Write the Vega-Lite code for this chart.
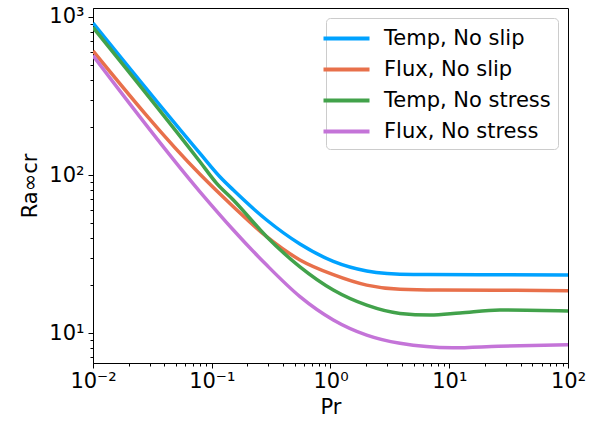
{
  "$schema": "https://vega.github.io/schema/vega-lite/v6.json",
  "width": 475,
  "height": 355,
  "autosize": {"type": "none"},
  "padding": {"left": 93, "top": 8, "right": 22, "bottom": 60},
  "background": "white",
  "config": {
    "font": "DejaVu Sans",
    "view": {"stroke": "black", "strokeWidth": 1}
  },
  "data": {
    "values": [
      {"Pr": 0.01, "Ra": 916, "case": "Temp, No slip"},
      {"Pr": 0.0796, "Ra": 137, "case": "Temp, No slip"},
      {"Pr": 0.117, "Ra": 97.5, "case": "Temp, No slip"},
      {"Pr": 0.152, "Ra": 80.3, "case": "Temp, No slip"},
      {"Pr": 0.29, "Ra": 51.9, "case": "Temp, No slip"},
      {"Pr": 0.553, "Ra": 36.6, "case": "Temp, No slip"},
      {"Pr": 1.056, "Ra": 28.4, "case": "Temp, No slip"},
      {"Pr": 2.018, "Ra": 24.7, "case": "Temp, No slip"},
      {"Pr": 3.0, "Ra": 23.8, "case": "Temp, No slip"},
      {"Pr": 5.0, "Ra": 23.45, "case": "Temp, No slip"},
      {"Pr": 18.0, "Ra": 23.4, "case": "Temp, No slip"},
      {"Pr": 100, "Ra": 23.3, "case": "Temp, No slip"},

      {"Pr": 0.01, "Ra": 610, "case": "Flux, No slip"},
      {"Pr": 0.0796, "Ra": 101, "case": "Flux, No slip"},
      {"Pr": 0.152, "Ra": 63.0, "case": "Flux, No slip"},
      {"Pr": 0.29, "Ra": 40.7, "case": "Flux, No slip"},
      {"Pr": 0.553, "Ra": 29.0, "case": "Flux, No slip"},
      {"Pr": 1.056, "Ra": 23.4, "case": "Flux, No slip"},
      {"Pr": 2.018, "Ra": 20.1, "case": "Flux, No slip"},
      {"Pr": 3.85, "Ra": 18.9, "case": "Flux, No slip"},
      {"Pr": 8.0, "Ra": 18.7, "case": "Flux, No slip"},
      {"Pr": 25.0, "Ra": 18.65, "case": "Flux, No slip"},
      {"Pr": 100, "Ra": 18.5, "case": "Flux, No slip"},

      {"Pr": 0.01, "Ra": 860, "case": "Temp, No stress"},
      {"Pr": 0.0796, "Ra": 121.4, "case": "Temp, No stress"},
      {"Pr": 0.11, "Ra": 88.5, "case": "Temp, No stress"},
      {"Pr": 0.152, "Ra": 69.5, "case": "Temp, No stress"},
      {"Pr": 0.29, "Ra": 40.7, "case": "Temp, No stress"},
      {"Pr": 0.553, "Ra": 26.2, "case": "Temp, No stress"},
      {"Pr": 1.056, "Ra": 18.7, "case": "Temp, No stress"},
      {"Pr": 2.018, "Ra": 15.0, "case": "Temp, No stress"},
      {"Pr": 3.85, "Ra": 13.3, "case": "Temp, No stress"},
      {"Pr": 6.9, "Ra": 13.0, "case": "Temp, No stress"},
      {"Pr": 12.3, "Ra": 13.4, "case": "Temp, No stress"},
      {"Pr": 26.7, "Ra": 14.0, "case": "Temp, No stress"},
      {"Pr": 100, "Ra": 13.8, "case": "Temp, No stress"},

      {"Pr": 0.01, "Ra": 570, "case": "Flux, No stress"},
      {"Pr": 0.0796, "Ra": 78.3, "case": "Flux, No stress"},
      {"Pr": 0.152, "Ra": 44.9, "case": "Flux, No stress"},
      {"Pr": 0.29, "Ra": 26.9, "case": "Flux, No stress"},
      {"Pr": 0.553, "Ra": 17.0, "case": "Flux, No stress"},
      {"Pr": 1.056, "Ra": 12.1, "case": "Flux, No stress"},
      {"Pr": 2.018, "Ra": 9.7, "case": "Flux, No stress"},
      {"Pr": 3.85, "Ra": 8.61, "case": "Flux, No stress"},
      {"Pr": 10.7, "Ra": 8.07, "case": "Flux, No stress"},
      {"Pr": 26, "Ra": 8.25, "case": "Flux, No stress"},
      {"Pr": 100, "Ra": 8.43, "case": "Flux, No stress"}
    ]
  },
  "mark": {"type": "line", "strokeWidth": 3.5, "interpolate": "monotone", "clip": true},
  "encoding": {
    "x": {
      "field": "Pr", "type": "quantitative",
      "scale": {"type": "log", "domain": [0.01, 100], "nice": false},
      "axis": {
        "title": "Pr",
        "titleFontSize": 21, "titleFontWeight": "normal", "titleColor": "black", "titlePadding": 5,
        "values": [0.01,0.02,0.03,0.04,0.05,0.06,0.07,0.08,0.09,0.1,0.2,0.3,0.4,0.5,0.6,0.7,0.8,0.9,1,2,3,4,5,6,7,8,9,10,20,30,40,50,60,70,80,90,100],
        "labelExpr": "datum.value==0.01?'10⁻²':datum.value==0.1?'10⁻¹':datum.value==1?'10⁰':datum.value==10?'10¹':datum.value==100?'10²':''",
        "labelFontSize": 21, "labelColor": "black", "labelOverlap": false, "labelFlush": false, "labelBound": false, "labelPadding": 2,
        "grid": false, "domainColor": "black", "tickColor": "black",
        "tickSize": {"condition": {"test": "datum.value==0.01||datum.value==0.1||datum.value==1||datum.value==10||datum.value==100", "value": 5}, "value": 3}
      }
    },
    "y": {
      "field": "Ra", "type": "quantitative",
      "scale": {"type": "log", "domain": [6.46, 1140], "nice": false},
      "axis": {
        "title": "Ra∞cr",
        "titleFontSize": 21, "titleFontWeight": "normal", "titleColor": "black", "titlePadding": 8,
        "values": [7,8,9,10,20,30,40,50,60,70,80,90,100,200,300,400,500,600,700,800,900,1000],
        "labelExpr": "datum.value==10?'10¹':datum.value==100?'10²':datum.value==1000?'10³':''",
        "labelFontSize": 21, "labelColor": "black", "labelOverlap": false, "labelFlush": false, "labelBound": false, "labelPadding": 4,
        "grid": false, "domainColor": "black", "tickColor": "black",
        "tickSize": {"condition": {"test": "datum.value==10||datum.value==100||datum.value==1000", "value": 5}, "value": 3}
      }
    },
    "color": {
      "field": "case", "type": "nominal",
      "scale": {
        "domain": ["Temp, No slip", "Flux, No slip", "Temp, No stress", "Flux, No stress"],
        "range": ["#00a2ff", "#e8704b", "#42a24b", "#c474d8"]
      },
      "legend": {
        "title": null, "orient": "top-right", "offset": 10,
        "labelFontSize": 21, "labelColor": "black", "labelLimit": 400, "labelOffset": 24,
        "symbolType": "M-2,0H2", "symbolSize": 529, "symbolStrokeWidth": 4,
        "strokeColor": "#cccccc", "fillColor": "rgba(255,255,255,0.8)", "cornerRadius": 4,
        "padding": 7, "rowPadding": 7
      }
    }
  }
}
